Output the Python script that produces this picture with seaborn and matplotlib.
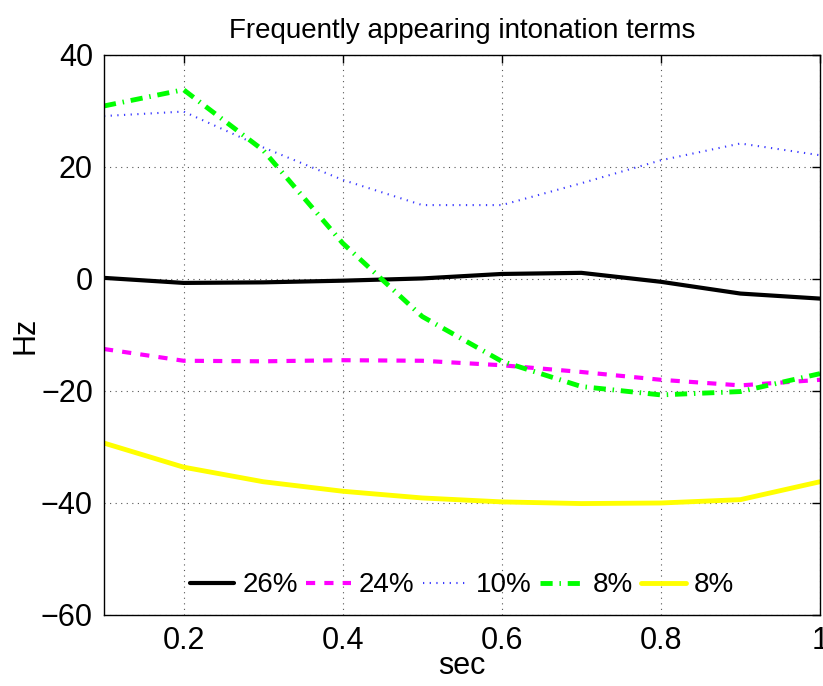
import numpy as np
import pandas as pd
import matplotlib
matplotlib.use("Agg")
import matplotlib.pyplot as plt
import seaborn as sns

sec = [0.1, 0.2, 0.3, 0.4, 0.5, 0.6, 0.7, 0.8, 0.9, 1.0]
black_26 = [0.2, -0.7, -0.6, -0.3, 0.1, 0.9, 1.1, -0.5, -2.6, -3.5]
magenta_24 = [-12.5, -14.6, -14.7, -14.5, -14.6, -15.4, -16.6, -18.0, -19.0, -18.0]
blue_10 = [29.1, 29.9, 23.5, 17.7, 13.2, 13.2, 17.1, 21.2, 24.2, 22.1]
green_8 = [30.9, 33.8, 23.0, 6.4, -6.7, -14.7, -19.2, -20.7, -20.1, -16.9]
yellow_8 = [-29.3, -33.6, -36.2, -37.9, -39.1, -39.8, -40.1, -40.0, -39.4, -36.2]
labels = ["26%", "24%", "10%", "8%", "8%"]

sns.set_style("white")
plt.rcParams['font.family'] = ['Liberation Sans', 'DejaVu Sans']
plt.rcParams['text.color'] = 'black'
plt.rcParams['axes.labelcolor'] = 'black'
plt.rcParams['xtick.color'] = 'black'
plt.rcParams['ytick.color'] = 'black'

fig = plt.figure(figsize=(8.23, 6.86), dpi=100)
ax = fig.add_axes([104/823, 1 - 615/686, (820-104)/823, (615-55)/686])

series = [black_26, magenta_24, blue_10, green_8, yellow_8]
styles = [
    dict(color="black", linewidth=3.0, linestyle="-"),
    dict(color="#ff00ff", linewidth=3.0, linestyle=(0, (2.2, 2.2))),
    dict(color="#3a3aff", linewidth=1.5, linestyle=(0, (0.6, 2.6))),
    dict(color="#00ff00", linewidth=3.5, linestyle=(0, (2.5, 1.4, 0.3, 1.4))),
    dict(color="#ffff00", linewidth=3.5, linestyle="-"),
]
for vals, lab, st in zip(series, labels, styles):
    df = pd.DataFrame({"sec": sec, "Hz": vals})
    sns.lineplot(data=df, x="sec", y="Hz", ax=ax, label=lab, **st)

ax.set_xlim(0.1, 1.0)
ax.set_ylim(-60, 40)
ax.set_xticks([0.2, 0.4, 0.6, 0.8, 1.0])
ax.set_xticklabels(["0.2", "0.4", "0.6", "0.8", "1"])
ax.set_yticks([-60, -40, -20, 0, 20, 40])
ax.set_yticklabels(["\u221260", "\u221240", "\u221220", "0", "20", "40"])
ax.grid(True, linestyle=(0, (1, 4)), color="#555555", linewidth=0.8)
ax.tick_params(direction="in", length=6, width=1, labelsize=22, top=True, right=True, pad=8)
for s in ax.spines.values():
    s.set_visible(True)
    s.set_color("black")
    s.set_linewidth(1.0)
ax.set_xlabel("sec", fontsize=22, labelpad=-4)
ax.set_ylabel("Hz", fontsize=22, labelpad=0)
ax.set_title("Frequently appearing intonation terms", fontsize=20, pad=12)

ax.legend(loc="lower center", ncol=5, frameon=False, fontsize=20, handlelength=1.6,
          columnspacing=0.3, handletextpad=0.3, borderaxespad=0.2)

fig.savefig("out.png", dpi=100)
